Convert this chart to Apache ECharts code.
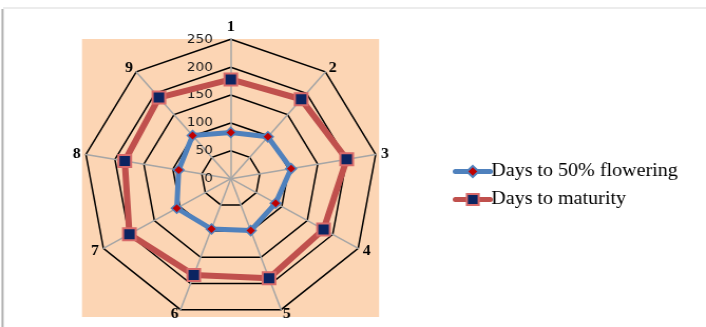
<!DOCTYPE html>
<html>
<head>
<meta charset="utf-8">
<script src="https://cdn.jsdelivr.net/npm/echarts@6/dist/echarts.min.js"></script>
<style>
  html, body { margin: 0; padding: 0; background: #fff; overflow: hidden; }
  /* the chart is laid out a little narrower and widened to fill the frame */
  #chart { width: 669px; height: 327px; transform: scaleX(1.0553); transform-origin: 0 0; }
</style>
</head>
<body>
<div id="chart"></div>
<script>
// Genotype labels, clockwise from the top
const categories = ['1', '2', '3', '4', '5', '6', '7', '8', '9'];
const flowering = [83, 98, 104, 88, 99, 96, 106, 90, 101];
const maturity = [178, 186, 200, 182, 190, 184, 199, 183, 190];
const seriesNames = ['Days to 50% flowering', 'Days to maturity'];
const axisMax = 250;
const tickStep = 50;

// ECharts lays radar axes out counter-clockwise, so walk the list backwards after the first.
const order = [0].concat(categories.map((_, i) => i).slice(1).reverse());
const pick = arr => order.map(i => arr[i]);

const styles = [
  {
    symbol: 'diamond', symbolSize: 10,
    lineStyle: { color: '#4f81bd', width: 5, cap: 'round' },
    itemStyle: { color: '#c00000', borderColor: '#4f81bd', borderWidth: 1.5 }
  },
  {
    symbol: 'rect', symbolSize: 12,
    lineStyle: { color: '#c0504d', width: 6, cap: 'round' },
    itemStyle: { color: '#0b2461', borderColor: '#d86a6a', borderWidth: 2 }
  }
];

const chart = echarts.init(document.getElementById('chart'), null, { renderer: 'canvas' });

const indicators = order.map((i, k) => {
  const ind = { name: categories[i], min: 0, max: axisMax };
  if (k === 0) {
    ind.axisLabel = {
      show: true,
      color: '#1a1a1a',
      fontFamily: 'DejaVu Sans',
      fontSize: 13,
      margin: 17
    };
  }
  return ind;
});

// Line-type series carry the legend keys (line with marker); they hold no points.
const keySeries = seriesNames.map((name, s) => ({
  type: 'line',
  name: name,
  data: [],
  symbol: styles[s].symbol,
  lineStyle: styles[s].lineStyle,
  itemStyle: styles[s].itemStyle
}));

chart.setOption({
  animation: false,
  backgroundColor: '#fff',
  graphic: [
    { type: 'line', shape: { x1: 3, y1: 8, x2: 669, y2: 8 }, style: { stroke: '#d9d9d9', lineWidth: 1 }, z: 0 },
    { type: 'line', shape: { x1: 2.4, y1: 9, x2: 2.4, y2: 327 }, style: { stroke: '#b0b0b0', lineWidth: 2 }, z: 0 },
    { type: 'rect', shape: { x: 77.7, y: 39, width: 281.5, height: 278 }, style: { fill: '#fcd5b4' }, z: -10 }
  ],
  grid: { show: false, left: 0, top: 0, width: 1, height: 1 },
  xAxis: { type: 'category', show: false },
  yAxis: { type: 'value', show: false },
  legend: {
    orient: 'vertical',
    left: 424,
    top: 157,
    itemWidth: 33,
    itemHeight: 14,
    itemGap: 9,
    lineStyle: { width: 5, cap: 'round' },
    textStyle: { fontFamily: 'Liberation Serif', fontSize: 19, color: '#000', padding: [0, 0, 0, -4] },
    data: seriesNames
  },
  radar: {
    center: [218.7, 178.7],
    radius: 139.4,
    shape: 'polygon',
    splitNumber: axisMax / tickStep,
    indicator: indicators,
    axisName: {
      color: '#000',
      fontFamily: 'Liberation Serif',
      fontWeight: 'bold',
      fontSize: 15
    },
    nameGap: 5,
    axisLine: { lineStyle: { color: '#a6a6a6', width: 1.5 } },
    splitLine: { lineStyle: { color: '#000', width: 1.5 } },
    splitArea: { show: false },
    axisTick: { show: false },
    axisLabel: { show: false }
  },
  series: keySeries.concat([{
    type: 'radar',
    z: 3,
    data: [flowering, maturity].map((vals, s) => ({
      name: seriesNames[s],
      value: pick(vals),
      symbol: styles[s].symbol,
      symbolSize: styles[s].symbolSize,
      lineStyle: styles[s].lineStyle,
      itemStyle: styles[s].itemStyle
    }))
  }])
});
</script>
</body>
</html>
